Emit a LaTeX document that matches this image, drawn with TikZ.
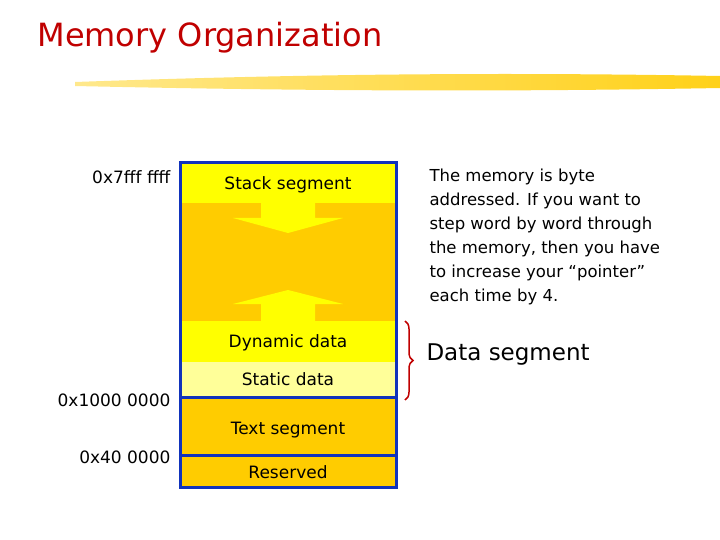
\documentclass[tikz,border=0pt]{standalone}
\usepackage{fontspec}
\setmainfont{DejaVu Sans}
\usetikzlibrary{positioning,decorations.pathreplacing}
\definecolor{stackyell}{HTML}{FFFF00}
\definecolor{heaporange}{HTML}{FFCC00}
\definecolor{staticyell}{HTML}{FFFF99}
\definecolor{memblue}{HTML}{1133BB}
\definecolor{titlered}{HTML}{C00000}

\begin{document}
\begin{tikzpicture}[x=1pt,y=-1pt,
   seg/.style={font=\fontsize{17}{19}\selectfont},
   addr/.style={anchor=east,font=\fontsize{17}{19}\selectfont},
   border/.style={draw=memblue,line width=3pt}
]
\useasboundingbox (0,0) rectangle (720,540);

\node[anchor=west,text=titlered,font=\fontsize{32}{36}\selectfont] (title) at (34,38) {Memory Organization};
\shade[left color=heaporange!50,right color=heaporange,opacity=0.9]
  (75,82) .. controls (300,74) and (500,72) .. (720,76) -- (720,88) .. controls (500,92) and (300,91) .. (75,86) -- cycle;

% memory segments
\fill[stackyell] (180,163) rectangle (396,203);
\fill[heaporange] (180,203) rectangle (396,321);
\fill[stackyell] (180,321) rectangle (396,362);
\fill[staticyell] (180,362) rectangle (396,397);
\fill[heaporange] (180,397) rectangle (396,487);
\fill[stackyell] (261,203) -- (315,203) -- (315,218) -- (343,218) -- (288,233) -- (233,218) -- (261,218) -- cycle;
\fill[stackyell] (261,321) -- (315,321) -- (315,304) -- (343,304) -- (288,290) -- (233,304) -- (261,304) -- cycle;
\draw[border] (180,163) rectangle (396,487);
\draw[border] (180,397) -- (396,397);
\draw[border] (180,455) -- (396,455);

\node[seg] (stack) at (288,185) {Stack segment};
\node[seg] (dynamic) at (288,343) {Dynamic data};
\node[seg] (static) at (288,379) {Static data};
\node[seg] (text) at (288,430) {Text segment};
\node[seg] (reserved) at (288,472) {Reserved};

\node[addr] (top) at (174,177) {0x7fff ffff};
\node[addr] (datastart) at (174,400) {0x1000 0000};
\node[addr] (textstart) at (174,457) {0x40 0000};

\coordinate (bracetop) at (405,321);
\coordinate (bracebot) at (405,400);
\draw[titlered,line width=1.5pt,decorate,decoration={brace,amplitude=8pt}] (bracetop) -- (bracebot);
\node[anchor=west,font=\fontsize{23}{26}\selectfont] (datalabel) at (423,355) {Data segment};

\node[anchor=north west,align=left,font=\fontsize{16.5}{24}\selectfont] (note) at (426,165)
  {The memory is byte\\addressed. If you want to\\step word by word through\\the memory, then you have\\to increase your “pointer”\\each time by 4.};
\end{tikzpicture}
\end{document}
